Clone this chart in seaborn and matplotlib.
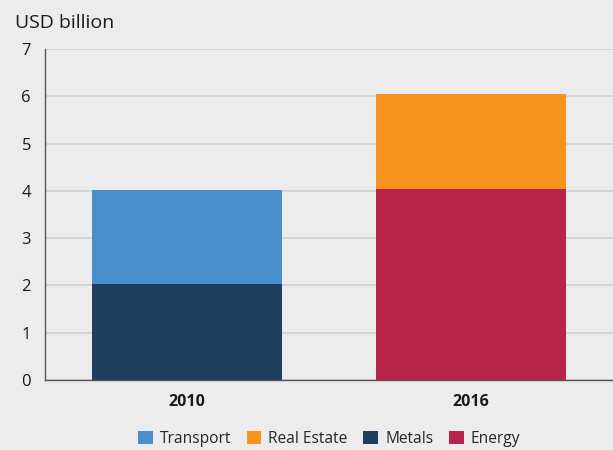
import matplotlib
matplotlib.use("Agg")
import matplotlib.pyplot as plt
from matplotlib.patches import Patch
import seaborn as sns
import pandas as pd

years = ["2010", "2016"]
lower_sector = ["Metals", "Energy"]
lower_value = [2.03, 4.03]
upper_sector = ["Transport", "Real Estate"]
upper_value = [1.99, 2.02]

legend_order = ["Transport", "Real Estate", "Metals", "Energy"]
colors = {
    "Transport": "#4a8fcb",
    "Real Estate": "#f7941e",
    "Metals": "#203e5f",
    "Energy": "#b7264a",
}

bg = "#ececec"
sns.set_theme(style="white")
plt.rcParams["font.family"] = ["Open Sans", "DejaVu Sans"]

lower = pd.DataFrame({"year": years, "sector": lower_sector, "value": lower_value})
upper = pd.DataFrame({
    "year": years,
    "sector": upper_sector,
    "value": [l + u for l, u in zip(lower_value, upper_value)],
})

fig = plt.figure(figsize=(6.13, 4.5), dpi=100, facecolor=bg)
ax = fig.add_axes([45 / 613, 1 - 380 / 450, 1 - 45 / 613, (380 - 49) / 450])
ax.set_facecolor(bg)

# upper segment drawn at full stacked height, lower segment on top of it
sns.barplot(data=upper, x="year", y="value", hue="sector", palette=colors,
            dodge=False, width=0.67, saturation=1, linewidth=0, ax=ax,
            legend=False, zorder=3)
sns.barplot(data=lower, x="year", y="value", hue="sector", palette=colors,
            dodge=False, width=0.67, saturation=1, linewidth=0, ax=ax,
            legend=False, zorder=3)

ax.set_xlim(-0.5, 1.5)
ax.set_ylim(0, 7)
ax.set_yticks(range(0, 8))
ax.yaxis.grid(True, color="#d2d2d2", linewidth=1.3)
ax.set_axisbelow(True)
ax.set_xlabel("")
ax.set_ylabel("")

for s in ["top", "right"]:
    ax.spines[s].set_visible(False)
for s in ["left", "bottom"]:
    ax.spines[s].set_color("#555555")
    ax.spines[s].set_linewidth(1.0)

ax.tick_params(axis="y", length=0, pad=10, labelsize=12, labelcolor="#1a1a1a")
ax.tick_params(axis="x", length=0, pad=10, labelsize=11.5, labelcolor="#1a1a1a")
for lbl in ax.get_xticklabels():
    lbl.set_fontweight("bold")

fig.text(15 / 613, 1 - 28 / 450, "USD billion", fontsize=14, color="#1a1a1a",
         ha="left", va="baseline")

handles = [Patch(facecolor=colors[k], edgecolor="none", label=k) for k in legend_order]
ax.legend(handles=handles, loc="center", bbox_to_anchor=(0.5, -0.178), ncol=4,
          frameon=False, fontsize=11.2, handlelength=0.95, handleheight=0.95,
          handletextpad=0.45, columnspacing=1.0, borderaxespad=0)

fig.savefig("out.png", dpi=100, facecolor=bg)
